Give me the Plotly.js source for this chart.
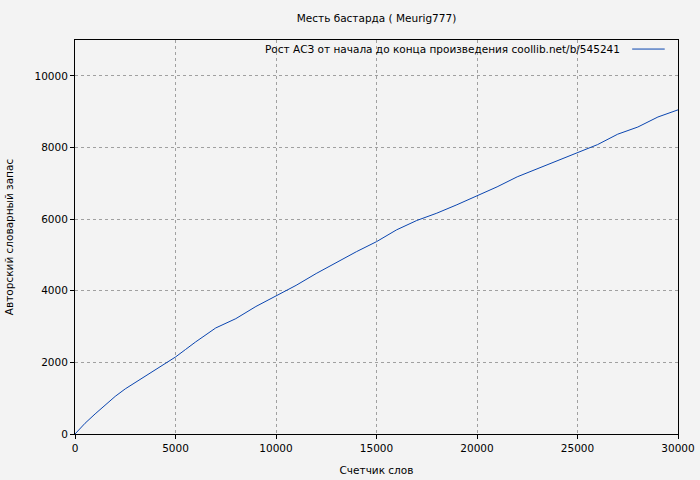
<!DOCTYPE html>
<html>
<head>
<meta charset="utf-8">
<script src="https://cdn.plot.ly/plotly-3.0.1.min.js"></script>
<style>html,body{margin:0;padding:0;background:#f3f3f3;}</style>
</head>
<body>
<div id="chart" style="width:700px;height:480px;"></div>
<script>
const chartTitle = "Месть бастарда ( Meurig777)";
const seriesName = "Рост АСЗ от начала до конца произведения coollib.net/b/545241";
const xTitle = "Счетчик слов";
const yTitle = "Авторский словарный запас";
const wordCount = [0, 500, 1000, 1500, 2000, 2500, 3000, 3500, 4000, 4500, 5000, 5500, 6000, 7000, 8000, 9000, 10000, 11000, 12000, 13000, 14000, 15000, 16000, 17000, 18000, 19000, 20000, 21000, 22000, 23000, 24000, 25000, 26000, 27000, 28000, 29000, 30000];
const vocab = [0, 300, 560, 810, 1050, 1260, 1440, 1610, 1790, 1975, 2150, 2360, 2570, 2960, 3220, 3560, 3860, 4150, 4480, 4790, 5090, 5370, 5700, 5960, 6165, 6400, 6650, 6900, 7180, 7400, 7640, 7850, 8080, 8370, 8570, 8850, 9050];
const xTicks = [0, 5000, 10000, 15000, 20000, 25000, 30000];
const yTicks = [0, 2000, 4000, 6000, 8000, 10000];

const lineColor = '#0a45b0';
const font = {family: 'DejaVu Sans', size: 10.5, color: '#000'};

const trace = {
  x: wordCount, y: vocab, type: 'scatter', mode: 'lines',
  name: seriesName, line: {color: lineColor, width: 1}, showlegend: false
};

const axisCommon = {
  showline: true, linecolor: '#000', linewidth: 1, mirror: true,
  ticks: 'outside', ticklen: 4, tickcolor: '#000', tickwidth: 1,
  showgrid: true, gridcolor: '#a0a0a0', griddash: 'dot', gridwidth: 1,
  zeroline: false, tickfont: font
};

const layout = {
  width: 700, height: 480,
  paper_bgcolor: '#f3f3f3', plot_bgcolor: '#f3f3f3',
  margin: {l: 75, r: 22, t: 40, b: 46},
  font: font,
  title: {text: chartTitle, font: font, xref: 'paper', x: 0.5, xanchor: 'center', y: 1 - 18/480, yanchor: 'middle'},
  xaxis: Object.assign({}, axisCommon, {
    range: [0, 30000], tickvals: xTicks, ticktext: xTicks.map(String),
    title: {text: xTitle, font: font, standoff: 14}
  }),
  yaxis: Object.assign({}, axisCommon, {
    range: [0, 11000], tickvals: yTicks, ticktext: yTicks.map(String),
    title: {text: yTitle, font: font, standoff: 18}
  }),
  annotations: [{
    xref: 'paper', yref: 'paper', x: 0.907, y: 0.977, xanchor: 'right', yanchor: 'middle',
    text: seriesName, showarrow: false, font: font
  }],
  shapes: [{
    type: 'line', xref: 'paper', yref: 'paper', x0: 0.924, x1: 0.978, y0: 0.977, y1: 0.977,
    line: {color: lineColor, width: 1}
  }]
};

Plotly.newPlot('chart', [trace], layout, {displayModeBar: false, staticPlot: true});
</script>
</body>
</html>
